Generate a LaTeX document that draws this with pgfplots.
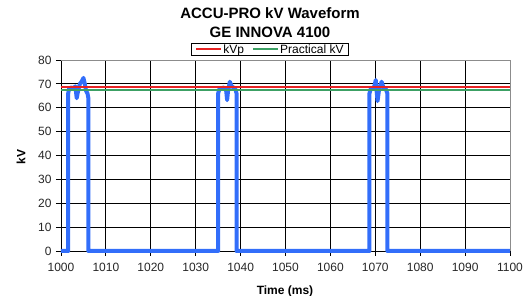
\documentclass[border=0pt]{standalone}
\usepackage{fontspec}
\setmainfont{Liberation Sans}
\usepackage{pgfplots}
\pgfplotsset{compat=1.18}
\definecolor{wblue}{RGB}{50,110,250}
\definecolor{kvred}{RGB}{230,35,35}
\definecolor{kvgreen}{RGB}{60,160,100}
\begin{document}
\begin{tikzpicture}[x=1pt,y=1pt]
\begin{axis}[
  at={(0,0)}, anchor=south west,
  scale only axis, width=449pt, height=191pt,
  xmin=1000, xmax=1100, ymin=0, ymax=80,
  xtick={1000,1010,...,1100}, ytick={0,10,...,80},
  axis x line*=bottom, axis y line*=left,
  axis line style={black, line width=0.9pt, -},
  tick align=outside, major tick length=5pt,
  tick style={black, line width=0.9pt},
  grid=major, major grid style={black, line width=0.8pt},
  /pgf/number format/assume math mode=true,
  /pgf/number format/1000 sep={},
  ticklabel style={font=\fontsize{12}{13}\selectfont, text=black!85},
  yticklabel style={xshift=-1pt},
  xticklabel style={yshift=-4pt},
  legend columns=2,
  legend style={at={(0.4655,1)}, anchor=south, yshift=4pt,
    draw=black, line width=1pt, inner xsep=4pt, inner ysep=0pt,
    font=\fontsize{12}{13}\selectfont,
    nodes={inner sep=1pt}, /tikz/every even column/.append style={column sep=7pt}},
  legend image code/.code={\draw[#1] (0pt,0pt) -- (25pt,0pt);},
  clip=false,
]
\addplot[wblue, line width=4pt, line join=round, forget plot] coordinates {
(1000,0) (1001.6,0) (1001.6,66) (1001.8,68) (1002.3,68.5) (1002.8,68) (1003.2,69)
(1003.5,64) (1003.8,67) (1004.2,70) (1004.6,71) (1005.0,72.5) (1005.3,70) (1005.6,67)
(1005.9,66) (1006.1,64) (1006.1,0)
(1035.0,0) (1035.0,66) (1035.3,68) (1035.8,68.2) (1036.3,68.5) (1036.8,67) (1037.0,63.2)
(1037.2,67) (1037.6,70.9) (1038.0,69) (1038.4,68.5) (1038.8,68) (1039.1,66) (1039.1,0)
(1068.7,0) (1068.7,66) (1069.0,68) (1069.5,68.3) (1069.8,69) (1070.1,71.6) (1070.3,67)
(1070.5,62.8) (1070.8,67) (1071.1,69) (1071.4,70.9) (1071.8,68.5) (1072.3,68) (1072.7,66)
(1072.7,0) (1100,0)
};
\addplot[kvred, line width=2pt] coordinates {(1000,68.6) (1100,68.6)};
\addlegendentry{kVp}
\addplot[kvgreen, line width=2pt] coordinates {(1000,67.6) (1100,67.6)};
\addlegendentry{Practical kV}
\draw[black!45, line width=0.9pt] (rel axis cs:0,1) -- (rel axis cs:1,1) -- (rel axis cs:1,0);
\end{axis}
\node[font=\bfseries\fontsize{15}{18}\selectfont] at (209,237.4) {ACCU-PRO kV Waveform};
\node[font=\bfseries\fontsize{15}{18}\selectfont] at (209,219) {GE INNOVA 4100};
\node[font=\bfseries\fontsize{12}{14}\selectfont, rotate=90] at (-40,94) {kV};
\node[font=\bfseries\fontsize{12}{14}\selectfont] at (224,-40) {Time (ms)};
\pgfresetboundingbox
\path[use as bounding box] (-61,-45) rectangle (470,251);
\end{tikzpicture}
\end{document}
